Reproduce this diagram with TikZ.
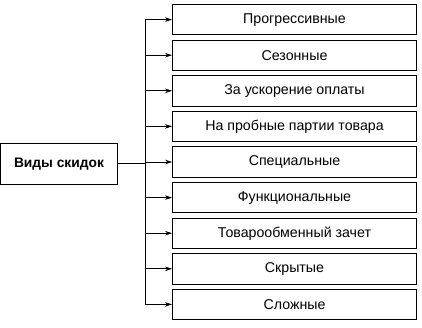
\documentclass[tikz,border=0pt]{standalone}
\usepackage{fontspec}
\setmainfont{Liberation Sans}
\usetikzlibrary{arrows.meta}
\begin{document}
\begin{tikzpicture}[x=1pt,y=-1pt,
  item/.style={draw,line width=0.9pt,minimum width=244pt,minimum height=30.5pt,inner sep=0pt,font=\fontsize{14.2}{16}\selectfont},
  main/.style={draw,line width=0.9pt,minimum width=117pt,minimum height=40.5pt,inner sep=0pt,font=\bfseries\fontsize{13.8}{16}\selectfont},
  conn/.style={line width=0.7pt},
  arr/.style={line width=0.7pt,-{Stealth[length=7pt,width=4.5pt]}}]
\useasboundingbox (0,0) rectangle (422,327);
\node[main] (m) at (59,163.7) {Виды скидок};
\foreach \t [count=\i] in {Прогрессивные,Сезонные,За ускорение оплаты,На пробные партии товара,Специальные,Функциональные,Товарообменный зачет,Скрытые,Сложные}{
  \node[item] (b\i) at (294.5,{19.6+(\i-1)*35.6}) {\t};
  \coordinate (j\i) at ([xshift=-27pt]b\i.west);
  \draw[arr] (j\i) -- (b\i.west);
}
\draw[conn] (j1) -- (j9);
\draw[conn] (m.east) -- (m.east -| j1);
\end{tikzpicture}
\end{document}
